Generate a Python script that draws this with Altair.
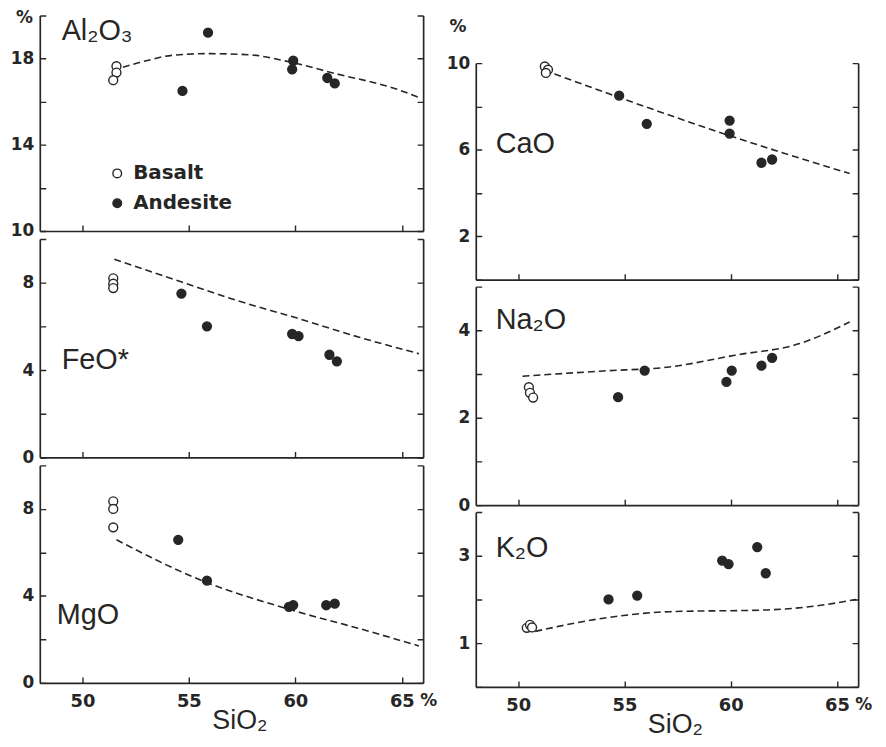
import altair as alt
import pandas as pd

# ---------------- data ----------------
panels = ["Al₂O₃", "FeO*", "MgO", "CaO", "Na₂O", "K₂O"]

al_basalt_x = [51.6, 51.6, 51.45]
al_basalt_y = [17.65, 17.35, 17.0]
al_andesite_x = [54.7, 55.9, 59.9, 59.85, 61.5, 61.85]
al_andesite_y = [16.5, 19.2, 17.9, 17.5, 17.1, 16.85]
al_trend_x = [51.9, 53.0, 54.2, 55.9, 57.8, 59.7, 61.9, 64.7, 65.8]
al_trend_y = [17.6, 17.9, 18.15, 18.23, 18.18, 17.85, 17.3, 16.6, 16.2]

fe_basalt_x = [51.45, 51.45, 51.45]
fe_basalt_y = [8.2, 7.95, 7.75]
fe_andesite_x = [54.65, 55.85, 59.85, 60.15, 61.6, 61.95]
fe_andesite_y = [7.5, 6.0, 5.65, 5.55, 4.7, 4.4]
fe_trend_x = [51.5, 54.6, 57.2, 60.0, 63.0, 65.8]
fe_trend_y = [9.07, 8.05, 7.2, 6.4, 5.5, 4.75]

mg_basalt_x = [51.45, 51.45, 51.45]
mg_basalt_y = [8.35, 8.0, 7.15]
mg_andesite_x = [54.5, 55.85, 59.7, 59.9, 61.45, 61.85]
mg_andesite_y = [6.58, 4.7, 3.5, 3.58, 3.57, 3.64]
mg_trend_x = [51.6, 55.3, 60.0, 63.1, 65.8]
mg_trend_y = [6.58, 4.83, 3.3, 2.47, 1.7]

ca_basalt_x = [51.25, 51.4, 51.3]
ca_basalt_y = [9.85, 9.7, 9.55]
ca_andesite_x = [54.75, 56.05, 59.95, 59.95, 61.45, 61.95]
ca_andesite_y = [8.5, 7.2, 7.35, 6.75, 5.4, 5.55]
ca_trend_x = [51.7, 54.8, 59.8, 65.6]
ca_trend_y = [9.5, 8.4, 6.7, 4.9]

na_basalt_x = [50.5, 50.55, 50.7]
na_basalt_y = [2.7, 2.57, 2.46]
na_andesite_x = [54.7, 55.95, 59.8, 60.05, 61.45, 61.95]
na_andesite_y = [2.47, 3.08, 2.82, 3.08, 3.19, 3.37]
na_trend_x = [50.2, 54.0, 57.1, 60.2, 63.2, 65.6]
na_trend_y = [2.95, 3.07, 3.16, 3.43, 3.69, 4.19]

k_basalt_x = [50.4, 50.55, 50.65]
k_basalt_y = [1.35, 1.42, 1.36]
k_andesite_x = [54.25, 55.6, 59.6, 59.9, 61.25, 61.65]
k_andesite_y = [2.0, 2.09, 2.89, 2.81, 3.2, 2.6]
k_trend_x = [50.8, 54.0, 57.1, 61.7, 64.0, 65.9]
k_trend_y = [1.27, 1.57, 1.72, 1.76, 1.85, 2.0]

x_ticks = [50, 55, 60, 65]
rock_types = ["Basalt", "Andesite"]

# ---------------- styling ----------------
INK = "#262626"
LABEL_FONT = "DejaVu Sans"
NAME_FONT = "Liberation Sans"
LW, RW = 386, 385


def panel(name, bx, by, ax, ay, tx, ty, ydom, ytick_vals, ylabel_vals,
          width, height, name_pos, bottom=False, pct=False, legend=False):
    pts = pd.DataFrame({
        "SiO2": list(bx) + list(ax),
        "v": list(by) + list(ay),
        "rock": [rock_types[0]] * len(bx) + [rock_types[1]] * len(ax),
    })
    tr = pd.DataFrame({"SiO2": tx, "v": ty})

    xscale = alt.Scale(domain=[48, 66], nice=False, zero=False)
    yscale = alt.Scale(domain=ydom, nice=False, zero=False)

    xaxis_kw = dict(
        values=x_ticks, grid=True, gridDash=[6, height - 6], gridDashOffset=6,
        gridColor=INK, gridOpacity=1, gridWidth=1.4,
        ticks=False, tickSize=0, domain=True, domainColor=INK, domainWidth=1.7,
        labels=bottom, labelFont=LABEL_FONT, labelFontWeight="bold",
        labelFontSize=18, labelColor=INK, labelPadding=10,
    )
    if bottom:
        xaxis_kw.update(title="SiO₂", titleFont=NAME_FONT, titleFontSize=27,
                        titleFontWeight="normal", titleColor=INK,
                        titleX=width / 2 + 8, titleY=46,
                        titleBaseline="alphabetic", titleAlign="center")
    else:
        xaxis_kw.update(title=None)
    xaxis = alt.Axis(**xaxis_kw)

    lab_list = ",".join(str(v) for v in ylabel_vals)
    yaxis_kw = dict(
        values=ytick_vals, grid=True, gridDash=[6, width - 12, 6, 5000],
        gridColor=INK, gridOpacity=1, gridWidth=1.4,
        ticks=False, tickSize=0, domain=True, domainColor=INK, domainWidth=1.7,
        labelExpr=f"indexof([{lab_list}], datum.value) >= 0 ? datum.label : ''",
        labelFont=LABEL_FONT, labelFontWeight="bold", labelFontSize=17,
        labelColor=INK, labelPadding=6,
    )
    if pct:
        yaxis_kw.update(title="%", titleAngle=0, titleX=-16, titleY=2,
                        titleAlign="center", titleBaseline="middle",
                        titleFont=LABEL_FONT, titleFontWeight="bold",
                        titleFontSize=17, titleColor=INK)
    else:
        yaxis_kw.update(title=None)
    yaxis = alt.Axis(**yaxis_kw)

    right_axis = alt.Axis(orient="right", labels=False, ticks=False, grid=False,
                          domain=True, domainColor=INK, domainWidth=1.7, title=None)

    trend = alt.Chart(tr).mark_line(
        strokeDash=[7, 4], color=INK, strokeWidth=1.6, interpolate="monotone"
    ).encode(
        x=alt.X("SiO2:Q", scale=xscale, axis=xaxis),
        y=alt.Y("v:Q", scale=yscale, axis=right_axis),
    )

    if legend:
        leg = alt.Legend(title=None, orient="none", legendX=68, legendY=149,
                         labelFont=LABEL_FONT, labelFontWeight="bold",
                         labelFontSize=20, labelColor=INK, symbolType="circle",
                         symbolSize=75, symbolStrokeColor=INK,
                         symbolStrokeWidth=1.4, rowPadding=10, labelOffset=6)
    else:
        leg = None

    points = alt.Chart(pts).mark_circle(
        size=80, stroke=INK, strokeWidth=1.4, opacity=1
    ).encode(
        x=alt.X("SiO2:Q", scale=xscale, axis=xaxis),
        y=alt.Y("v:Q", scale=yscale, axis=yaxis),
        fill=alt.Fill("rock:N", scale=alt.Scale(domain=rock_types,
                                                range=["white", INK]),
                      legend=leg),
    )

    name_layer = alt.Chart(pd.DataFrame({"n": [name]})).mark_text(
        font=NAME_FONT, fontSize=29, color=INK, align="left",
        baseline="alphabetic"
    ).encode(text="n:N", x=alt.value(name_pos[0]), y=alt.value(name_pos[1]))

    layers = [trend, points, name_layer]
    if bottom:
        pct_layer = alt.Chart(pd.DataFrame({"p": ["%"]})).mark_text(
            font=LABEL_FONT, fontSize=17, fontWeight="bold", color=INK,
            baseline="middle", dx=27
        ).encode(text="p:N", x=alt.X(datum=65), y=alt.value(height + 18))
        layers.append(pct_layer)

    return alt.layer(*layers).resolve_axis(y="independent").properties(
        width=width, height=height)


al = panel(panels[0], al_basalt_x, al_basalt_y, al_andesite_x, al_andesite_y,
           al_trend_x, al_trend_y, [10, 20], [10, 12, 14, 16, 18, 20],
           [10, 14, 18], LW, 217, (22, 25), pct=True, legend=True)
fe = panel(panels[1], fe_basalt_x, fe_basalt_y, fe_andesite_x, fe_andesite_y,
           fe_trend_x, fe_trend_y, [0, 10], [0, 2, 4, 6, 8, 10], [0, 4, 8],
           LW, 220, (22, 131))
mg = panel(panels[2], mg_basalt_x, mg_basalt_y, mg_andesite_x, mg_andesite_y,
           mg_trend_x, mg_trend_y, [0, 10], [0, 2, 4, 6, 8, 10], [0, 4, 8],
           LW, 219, (17, 160), bottom=True)

ca = panel(panels[3], ca_basalt_x, ca_basalt_y, ca_andesite_x, ca_andesite_y,
           ca_trend_x, ca_trend_y, [0, 10], [0, 2, 4, 6, 8, 10], [2, 6, 10],
           RW, 218, (20, 90))
na = panel(panels[4], na_basalt_x, na_basalt_y, na_andesite_x, na_andesite_y,
           na_trend_x, na_trend_y, [0, 5], [0, 1, 2, 3, 4, 5], [0, 2, 4],
           RW, 220, (20, 43))
k = panel(panels[5], k_basalt_x, k_basalt_y, k_andesite_x, k_andesite_y,
          k_trend_x, k_trend_y, [0, 4], [0, 1, 2, 3, 4], [1, 3],
          RW, 176, (20, 45), bottom=True)

spacer = alt.Chart(pd.DataFrame({"t": ["%"]})).mark_text(
    font=LABEL_FONT, fontSize=17, fontWeight="bold", color=INK,
    baseline="middle", align="center"
).encode(text="t:N", x=alt.value(-18), y=alt.value(12)).properties(
    width=RW, height=41)

left = alt.vconcat(al, fe, mg, spacing=8, bounds="flush")
right = alt.vconcat(spacer, ca, na, k, spacing=7, bounds="flush")

chart = alt.hconcat(left, right, spacing=8).properties(
    padding={"left": 2, "top": -2, "right": 5, "bottom": 5},
    background="white",
).configure_view(stroke="transparent", strokeWidth=0)

chart.save("out.html", embed_options={"renderer": "svg", "actions": False})
